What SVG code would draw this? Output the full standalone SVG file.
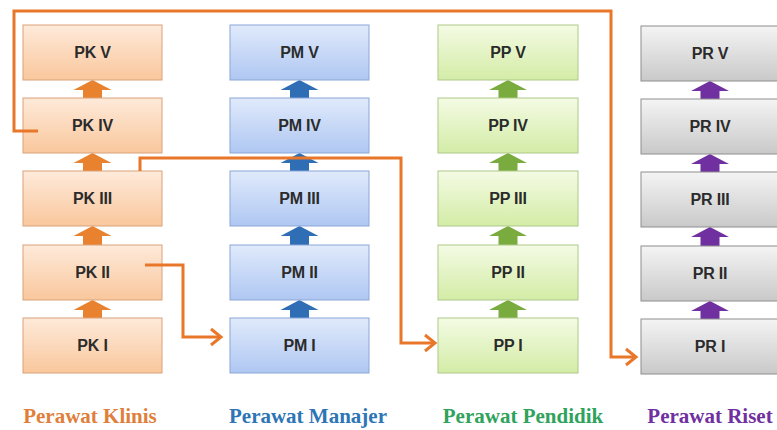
<svg xmlns="http://www.w3.org/2000/svg" width="777" height="430" viewBox="0 0 777 430">
<defs>
<linearGradient id="gk" x1="0" y1="0" x2="0" y2="1"><stop offset="0" stop-color="#FEEADA"/><stop offset="1" stop-color="#F9C79C"/></linearGradient>
<linearGradient id="gm" x1="0" y1="0" x2="0" y2="1"><stop offset="0" stop-color="#E0EAFB"/><stop offset="1" stop-color="#AFC7F2"/></linearGradient>
<linearGradient id="gp" x1="0" y1="0" x2="0" y2="1"><stop offset="0" stop-color="#F4FBE4"/><stop offset="1" stop-color="#D3ECA6"/></linearGradient>
<linearGradient id="gr" x1="0" y1="0" x2="0" y2="1"><stop offset="0" stop-color="#F4F4F4"/><stop offset="1" stop-color="#C9C9C9"/></linearGradient>
<marker id="ah" markerUnits="userSpaceOnUse" markerWidth="16" markerHeight="20" refX="13" refY="10" orient="auto">
<path d="M3,2 L13,10 L3,18" fill="none" stroke="#E8772A" stroke-width="3"/>
</marker>
<path id="up" d="M0,0 L19,10 L9.5,10 L9.5,20 L-9.5,20 L-9.5,10 L-19,10 Z"/>
</defs>
<style>
.k rect{fill:url(#gk);stroke:#D9A27A;stroke-width:1}
.m rect{fill:url(#gm);stroke:#8AA6D8;stroke-width:1}
.p rect{fill:url(#gp);stroke:#AEC98A;stroke-width:1}
.r rect{fill:url(#gr);stroke:#8E8E8E;stroke-width:1}
.t{font-family:"Liberation Sans",Arial,sans-serif;font-weight:bold;font-size:16px;fill:#2B2B2B;text-anchor:middle;letter-spacing:-0.2px}
.lab{font-family:"Liberation Serif","Times New Roman",serif;font-weight:bold;font-size:21px;text-anchor:middle}
.ak{fill:#E8822E}.am{fill:#2F6DB5}.ap{fill:#7AAB3F}.ar{fill:#7030A0}
.c{fill:none;stroke:#E8772A;stroke-width:3}
</style>
<rect width="777" height="430" fill="#fff"/>

<!-- up arrows -->
<g id="arrows-k" class="ak">
<use href="#up" x="92.5" y="80"/><use href="#up" x="92.5" y="153"/><use href="#up" x="92.5" y="226"/><use href="#up" x="92.5" y="300"/>
</g>
<g id="arrows-m" class="am">
<use href="#up" x="299.5" y="80"/><use href="#up" x="299.5" y="153"/><use href="#up" x="299.5" y="226"/><use href="#up" x="299.5" y="300"/>
</g>
<g id="arrows-p" class="ap">
<use href="#up" x="508" y="80"/><use href="#up" x="508" y="153"/><use href="#up" x="508" y="226"/><use href="#up" x="508" y="300"/>
</g>
<g id="arrows-r" class="ar">
<use href="#up" x="710" y="81"/><use href="#up" x="710" y="154"/><use href="#up" x="710" y="227"/><use href="#up" x="710" y="301"/>
</g>

<!-- PK -->
<g id="pk5" class="k"><rect x="23" y="25" width="139" height="55"/><text class="t" x="92.5" y="58">PK V</text></g>
<g id="pk4" class="k"><rect x="23" y="98" width="139" height="55"/><text class="t" x="92.5" y="131">PK IV</text></g>
<g id="pk3" class="k"><rect x="23" y="171" width="139" height="55"/><text class="t" x="92.5" y="204">PK III</text></g>
<g id="pk2" class="k"><rect x="23" y="245" width="139" height="55"/><text class="t" x="92.5" y="278">PK II</text></g>
<g id="pk1" class="k"><rect x="23" y="318" width="139" height="55"/><text class="t" x="92.5" y="351">PK I</text></g>
<!-- PM -->
<g id="pm5" class="m"><rect x="230" y="25" width="139" height="55"/><text class="t" x="299.5" y="58">PM V</text></g>
<g id="pm4" class="m"><rect x="230" y="98" width="139" height="55"/><text class="t" x="299.5" y="131">PM IV</text></g>
<g id="pm3" class="m"><rect x="230" y="171" width="139" height="55"/><text class="t" x="299.5" y="204">PM III</text></g>
<g id="pm2" class="m"><rect x="230" y="245" width="139" height="55"/><text class="t" x="299.5" y="278">PM II</text></g>
<g id="pm1" class="m"><rect x="230" y="318" width="139" height="55"/><text class="t" x="299.5" y="351">PM I</text></g>
<!-- PP -->
<g id="pp5" class="p"><rect x="438" y="25" width="140" height="55"/><text class="t" x="508" y="58">PP V</text></g>
<g id="pp4" class="p"><rect x="438" y="98" width="140" height="55"/><text class="t" x="508" y="131">PP IV</text></g>
<g id="pp3" class="p"><rect x="438" y="171" width="140" height="55"/><text class="t" x="508" y="204">PP III</text></g>
<g id="pp2" class="p"><rect x="438" y="245" width="140" height="55"/><text class="t" x="508" y="278">PP II</text></g>
<g id="pp1" class="p"><rect x="438" y="318" width="140" height="55"/><text class="t" x="508" y="351">PP I</text></g>
<!-- PR -->
<g id="pr5" class="r"><rect x="641" y="26" width="139" height="55"/><text class="t" x="710" y="59">PR V</text></g>
<g id="pr4" class="r"><rect x="641" y="99" width="139" height="55"/><text class="t" x="710" y="132">PR IV</text></g>
<g id="pr3" class="r"><rect x="641" y="172" width="139" height="55"/><text class="t" x="710" y="205">PR III</text></g>
<g id="pr2" class="r"><rect x="641" y="246" width="139" height="55"/><text class="t" x="710" y="279">PR II</text></g>
<g id="pr1" class="r"><rect x="641" y="319" width="139" height="55"/><text class="t" x="710" y="352">PR I</text></g>

<!-- connectors -->
<g id="connectors" class="c">
<path d="M38,131 H14 V11 H611 V357 H636" marker-end="url(#ah)"/>
<path d="M140,171 V158 H401 V343 H435" marker-end="url(#ah)"/>
<path d="M145,265 H183 V337 H221" marker-end="url(#ah)"/>
</g>

<!-- labels -->
<text class="lab" x="90" y="423" fill="#E07F3C">Perawat Klinis</text>
<text class="lab" x="308" y="423" fill="#2E75B6">Perawat Manajer</text>
<text class="lab" x="523" y="423" fill="#2FA35C">Perawat Pendidik</text>
<text class="lab" x="710" y="423" fill="#7030A0">Perawat Riset</text>
</svg>
